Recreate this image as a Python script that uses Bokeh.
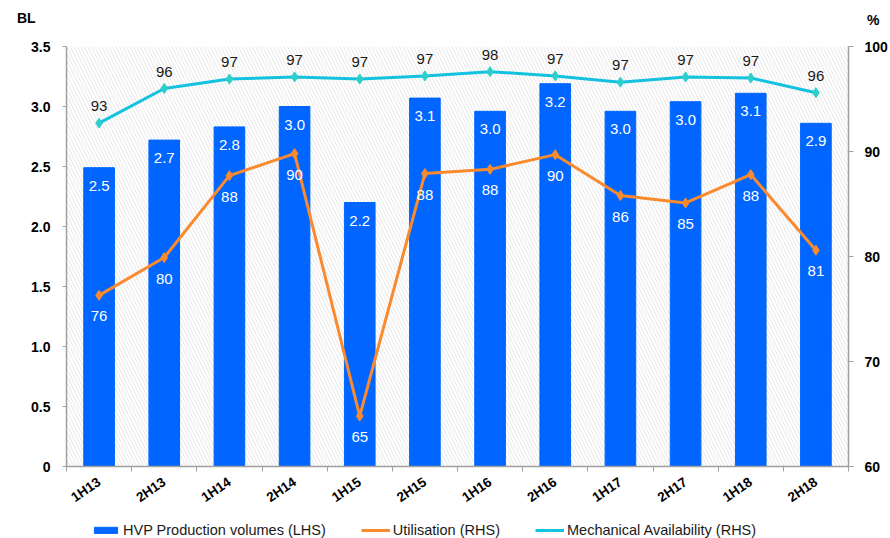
from bokeh.plotting import figure
from bokeh.layouts import column
from bokeh.models import (Range1d, LinearAxis, FixedTicker, CustomJSTickFormatter,
                          ColumnDataSource, LabelSet, Legend, LegendItem, Div)
from bokeh.core.properties import value
from bokeh.embed import file_html
from bokeh.resources import INLINE
import math

# Half-year periods
periods = ["1H13", "2H13", "1H14", "2H14", "1H15", "2H15",
           "1H16", "2H16", "1H17", "2H17", "1H18", "2H18"]
# HVP production volumes, billion litres (left axis)
hvp_volume = [2.49, 2.72, 2.83, 3.00, 2.20, 3.07, 2.96, 3.19, 2.96, 3.04, 3.11, 2.86]
# Utilisation, % (right axis)
utilisation = [76.3, 79.9, 87.7, 89.8, 64.8, 87.9, 88.3, 89.7, 85.8, 85.1, 87.8, 80.6]
# Mechanical availability, % (right axis)
mech_avail = [92.7, 96.0, 96.9, 97.1, 96.9, 97.2, 97.6, 97.2, 96.6, 97.1, 97.0, 95.6]

left_ticks = [0, 0.5, 1.0, 1.5, 2.0, 2.5, 3.0, 3.5]
right_ticks = [60, 70, 80, 90, 100]

series_names = ["HVP Production volumes (LHS)", "Utilisation (RHS)",
                "Mechanical Availability (RHS)"]
left_unit, right_unit = "BL", "%"

FONT = "Liberation Sans"
BLUE = "#0066FF"
ORANGE = "#FA8A2E"
CYAN = "#12C2DE"
MA_MARK = "#2CCFCB"
AXIS_GREY = "#a0a0a0"

n = len(periods)
centers = [i + 0.5 for i in range(n)]
bounds = list(range(n + 1))

src = ColumnDataSource(dict(
    x=centers,
    hvp=hvp_volume,
    util=utilisation,
    ma=mech_avail,
    hvp_lbl=[f"{v:.1f}" for v in hvp_volume],
    util_lbl=[f"{round(v):d}" for v in utilisation],
    ma_lbl=[f"{round(v):d}" for v in mech_avail],
))

W = 890
HEAD_H = 30
LEG_H = 24
MAIN_H = 538 - HEAD_H - LEG_H
FRAME_TOP, FRAME_BOTTOM = 46, 467
BORDER_L, BORDER_R = 66, 38

# header strip carrying the axis unit captions
unit_css = "position:absolute;top:{t}px;left:{l}px;font:bold 14px '{f}';color:#000;"
header = Div(
    width=W, height=HEAD_H, margin=0,
    text=(f"<div style='position:relative;width:{W}px;height:{HEAD_H}px;'>"
          f"<span style=\"{unit_css.format(t=10, l=17, f=FONT)}\">{left_unit}</span>"
          f"<span style=\"{unit_css.format(t=12, l=867, f=FONT)}\">{right_unit}</span>"
          "</div>"),
)

p = figure(width=W, height=MAIN_H, output_backend="svg", toolbar_location=None,
           x_range=Range1d(0, n), y_range=Range1d(0, 3.5),
           min_border_left=BORDER_L, min_border_right=BORDER_R,
           min_border_top=FRAME_TOP - HEAD_H,
           min_border_bottom=HEAD_H + MAIN_H - FRAME_BOTTOM, outline_line_color=None,
           background_fill_color="white", border_fill_color="white", margin=0)
p.extra_y_ranges = {"pct": Range1d(60, 100)}

# hatched plot background
p.quad(left=[0], right=[n], bottom=[0], top=[3.5], fill_color="white",
       line_color=None, hatch_pattern="\\", hatch_color="#e6e6e6",
       hatch_scale=7, hatch_weight=1)

# grids: vertical lines at category boundaries only
p.ygrid.grid_line_color = None
p.xgrid.ticker = FixedTicker(ticks=bounds)
p.xgrid.grid_line_color = "#d9d9d9"
p.xgrid.grid_line_width = 1

# bottom axis: labels at centres, tick marks at boundaries
xa = p.xaxis[0]
xa.ticker = FixedTicker(ticks=centers, minor_ticks=bounds)
xa.formatter = CustomJSTickFormatter(args=dict(labels=periods),
                                     code="return labels[Math.floor(tick)];")
xa.major_tick_line_color = None
xa.major_tick_out = 5
xa.major_tick_in = 0
xa.minor_tick_line_color = AXIS_GREY
xa.minor_tick_out = 5
xa.minor_tick_in = 0
xa.axis_line_color = AXIS_GREY
xa.axis_line_width = 1.5
xa.major_label_orientation = 0.6
xa.major_label_text_font = FONT
xa.major_label_text_font_style = "bold"
xa.major_label_text_font_size = "13.5px"
xa.major_label_text_color = "black"
xa.major_label_standoff = 9

# left axis
ya = p.yaxis[0]
ya.ticker = FixedTicker(ticks=left_ticks)
ya.formatter = CustomJSTickFormatter(code="return tick == 0 ? '0' : tick.toFixed(1);")
ya.minor_tick_line_color = None
ya.major_tick_out = 4
ya.major_tick_in = 0
ya.major_tick_line_color = AXIS_GREY
ya.axis_line_color = AXIS_GREY
ya.axis_line_width = 1.5
ya.major_label_text_font = FONT
ya.major_label_text_font_style = "bold"
ya.major_label_text_font_size = "14px"
ya.major_label_text_color = "black"
ya.major_label_standoff = 12

# right axis
ra = LinearAxis(y_range_name="pct", ticker=FixedTicker(ticks=right_ticks))
ra.minor_tick_line_color = None
ra.major_tick_out = 5
ra.major_tick_in = 0
ra.major_tick_line_color = AXIS_GREY
ra.axis_line_color = AXIS_GREY
ra.axis_line_width = 1.5
ra.major_label_text_font = FONT
ra.major_label_text_font_style = "bold"
ra.major_label_text_font_size = "14px"
ra.major_label_text_color = "black"
ra.major_label_standoff = 11
p.add_layout(ra, "right")

# bars
p.vbar(x="x", top="hvp", width=0.47, source=src, fill_color=BLUE, line_color=BLUE)

# utilisation line
p.line("x", "util", source=src, y_range_name="pct", line_color=ORANGE, line_width=3)
p.scatter("x", "util", source=src, y_range_name="pct", marker="diamond",
          size=10, fill_color=ORANGE, line_color=ORANGE)

# mechanical availability line
p.line("x", "ma", source=src, y_range_name="pct", line_color=CYAN, line_width=3)
p.scatter("x", "ma", source=src, y_range_name="pct", marker="diamond",
          size=10, fill_color=MA_MARK, line_color=MA_MARK)

# data labels
p.add_layout(LabelSet(x="x", y="hvp", text="hvp_lbl", source=src, y_offset=-18,
                      text_align="center", text_baseline="middle",
                      text_color="white", text_font=value(FONT),
                      text_font_size="15px"))
p.add_layout(LabelSet(x="x", y="util", text="util_lbl", source=src,
                      y_range_name="pct", y_offset=-21,
                      text_align="center", text_baseline="middle",
                      text_color="white", text_font=value(FONT),
                      text_font_size="15px"))
p.add_layout(LabelSet(x="x", y="ma", text="ma_lbl", source=src,
                      y_range_name="pct", y_offset=17,
                      text_align="center", text_baseline="middle",
                      text_color="#1a1a1a", text_font=value(FONT),
                      text_font_size="15px"))

# legend strip underneath the chart
lg = figure(width=W, height=LEG_H, output_backend="svg", toolbar_location=None,
            x_range=Range1d(0, 1), y_range=Range1d(0, 1),
            min_border_left=BORDER_L, min_border_right=BORDER_R, min_border_top=7,
            min_border_bottom=0, outline_line_color=None,
            background_fill_color="white", border_fill_color="white", margin=0)
lg.axis.visible = False
lg.grid.visible = False
k_bar = lg.vbar(x=[-5], top=[-5], width=0.1, fill_color=BLUE, line_color=BLUE)
k_ul = lg.line(x=[-5, -4], y=[-5, -5], line_color=ORANGE, line_width=3)
k_up = lg.scatter(x=[-5], y=[-5], marker="diamond", size=9,
                  fill_color=ORANGE, line_color=ORANGE)
k_ml = lg.line(x=[-5, -4], y=[-5, -5], line_color=CYAN, line_width=3)
k_mp = lg.scatter(x=[-5], y=[-5], marker="diamond", size=9,
                  fill_color=MA_MARK, line_color=MA_MARK)

legend = Legend(items=[
    LegendItem(label=series_names[0], renderers=[k_bar]),
    LegendItem(label=series_names[1], renderers=[k_ul, k_up]),
    LegendItem(label=series_names[2], renderers=[k_ml, k_mp]),
], orientation="horizontal", location=(25, 0), padding=0, margin=0,
    spacing=35, glyph_width=29, glyph_height=8, label_standoff=3,
    label_height=14,
    label_text_font=FONT, label_text_font_size="14.5px", label_text_color="#1a1a1a",
    border_line_color=None, background_fill_alpha=0)
lg.add_layout(legend, "center")

layout = column(header, p, lg, spacing=0, margin=0)
open("out.html", "w").write(file_html(layout, INLINE))
